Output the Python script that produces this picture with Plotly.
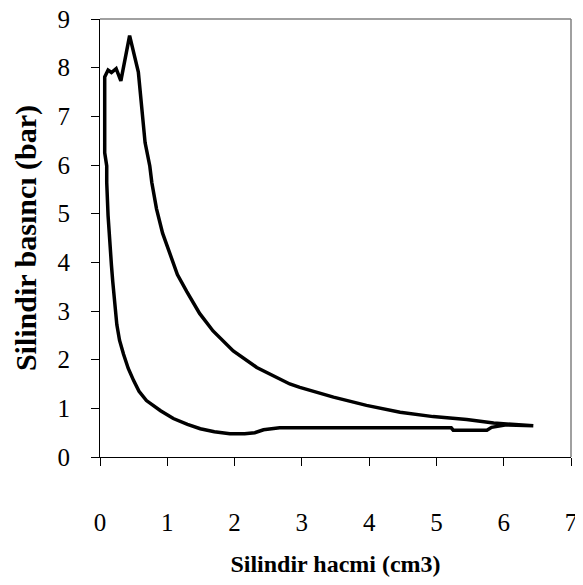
import plotly.graph_objects as go

# Compression (lower branch), from large volume to small volume
v_comp = [6.44, 6.04, 5.82, 5.75, 5.25, 5.22, 2.67, 2.55, 2.43, 2.30, 2.15, 1.93,
          1.70, 1.49, 1.30, 1.09, 0.90, 0.69, 0.58, 0.50, 0.42, 0.35, 0.29, 0.25,
          0.22, 0.19, 0.17, 0.14, 0.12, 0.10, 0.10, 0.07, 0.07]
p_comp = [0.64, 0.66, 0.61, 0.55, 0.55, 0.60, 0.60, 0.58, 0.56, 0.50, 0.48, 0.48,
          0.52, 0.58, 0.67, 0.79, 0.95, 1.16, 1.35, 1.57, 1.82, 2.11, 2.40, 2.72,
          3.27, 3.60, 3.94, 4.45, 4.96, 5.64, 5.98, 6.25, 7.81]

# Combustion and expansion (upper branch)
v_exp = [0.12, 0.17, 0.24, 0.31, 0.44, 0.57, 0.67, 0.74, 0.77, 0.84, 0.93, 1.04,
         1.15, 1.29, 1.48, 1.68, 1.98, 2.33, 2.82, 2.97, 3.47, 3.96, 4.46, 4.95,
         5.45, 5.85, 6.44]
p_exp = [7.95, 7.90, 7.98, 7.73, 8.66, 7.91, 6.46, 5.98, 5.64, 5.10, 4.60, 4.15,
         3.75, 3.40, 2.95, 2.59, 2.18, 1.84, 1.50, 1.43, 1.23, 1.06, 0.92, 0.83,
         0.77, 0.70, 0.64]

x_ticks = [0, 1, 2, 3, 4, 5, 6, 7]
y_ticks = [0, 1, 2, 3, 4, 5, 6, 7, 8, 9]

volume = v_comp + v_exp
pressure = p_comp + p_exp

font_family = "Liberation Serif, Times New Roman, serif"

fig = go.Figure()
fig.add_trace(go.Scatter(x=volume, y=pressure, mode="lines",
                         line=dict(color="black", width=3.5),
                         showlegend=False, hoverinfo="skip"))

# page body has an 8px margin, so the figure is 8px smaller than the window
fig.update_layout(
    width=575, height=577,
    margin=dict(l=92, r=12, t=11, b=128, autoexpand=False),
    paper_bgcolor="white", plot_bgcolor="white",
    font=dict(family=font_family, size=25, color="black"),
    xaxis=dict(range=[0, 7], tickvals=x_ticks, showgrid=False, zeroline=False,
               showline=True, linecolor="black", linewidth=1, automargin=False,
               ticks="outside", ticklen=8, tickcolor="black", tickwidth=1,
               ticklabelstandoff=35, ticklabeloverflow="allow",
               title=dict(text="<b>Silindir hacmi (cm3)</b>", standoff=20,
                          font=dict(size=24))),
    yaxis=dict(range=[0, 9], tickvals=y_ticks, showgrid=False, zeroline=False,
               showline=True, linecolor="black", linewidth=1, automargin=False,
               ticks="outside", ticklen=8, tickcolor="black", tickwidth=1,
               ticklabelstandoff=16, ticklabeloverflow="allow",
               title=dict(text="<b>Silindir basıncı (bar)</b>", standoff=12,
                          font=dict(size=30))),
)

fig.add_shape(type="line", xref="paper", yref="paper", x0=0, x1=1, y0=1, y1=1,
              line=dict(color="#808080", width=1.5), layer="above")
fig.add_shape(type="line", xref="paper", yref="paper", x0=1, x1=1, y0=0, y1=1,
              line=dict(color="#808080", width=1.5), layer="above")

fig.write_html("out.html")
